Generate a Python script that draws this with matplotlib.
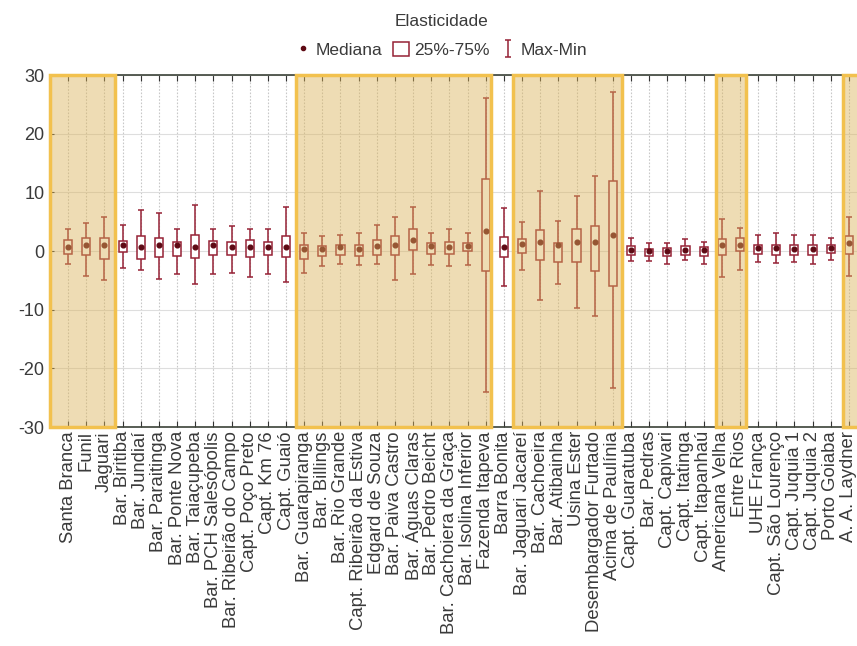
import numpy as np
import matplotlib.pyplot as plt
from matplotlib.lines import Line2D

plt.rcParams["font.family"] = ["Liberation Sans", "DejaVu Sans"]
plt.rcParams["axes.unicode_minus"] = False

stations = [
    "Santa Branca", "Funil", "Jaguari", "Bar. Biritiba", "Bar. Jundiaí",
    "Bar. Paraitinga", "Bar. Ponte Nova", "Bar. Taiaçupeba", "Bar. PCH Salesópolis",
    "Bar. Ribeirão do Campo", "Capt. Poço Preto", "Capt. Km 76", "Capt. Guaió",
    "Bar. Guarapiranga", "Bar. Billings", "Bar. Rio Grande", "Capt. Ribeirão da Estiva",
    "Edgard de Souza", "Bar. Paiva Castro", "Bar. Águas Claras", "Bar. Pedro Beicht",
    "Bar. Cachoiera da Graça", "Bar. Isolina Inferior", "Fazenda Itapeva", "Barra Bonita",
    "Bar. Jaguari Jacareí", "Bar. Cachoeira", "Bar. Atibainha", "Usina Ester",
    "Desembargador Furtado", "Acima de Paulínia", "Capt. Guaratuba", "Bar. Pedras",
    "Capt. Capivari", "Capt. Itatinga", "Capt. Itapanhaú", "Americana Velha",
    "Entre Rios", "UHE França", "Capt. São Lourenço", "Capt. Juquia 1",
    "Capt. Juquia 2", "Porto Goiaba", "A. A. Laydner",
]
v_max = [3.8, 4.7, 5.8, 4.4, 7.0, 6.4, 3.8, 7.9, 3.8, 4.3, 3.8, 3.8, 7.5,
         3.1, 2.6, 2.8, 3.1, 4.5, 5.8, 7.5, 3.1, 3.8, 3.1, 26.0, 7.4,
         5.0, 10.2, 5.1, 9.4, 12.7, 27.1, 2.2, 1.4, 1.4, 2.0, 1.55, 5.4,
         3.95, 2.8, 3.1, 2.8, 2.8, 2.2, 5.8]
q75 = [1.95, 2.3, 2.3, 1.7, 2.6, 2.3, 1.5, 2.7, 1.65, 1.5, 1.8, 1.5, 2.6,
       1.1, 0.8, 1.1, 1.1, 1.8, 2.5, 3.8, 1.4, 1.5, 1.4, 12.2, 2.4,
       2.1, 3.5, 1.4, 3.8, 4.3, 12.0, 0.85, 0.4, 0.5, 0.85, 0.7, 2.1,
       2.2, 1.1, 1.1, 1.0, 1.0, 1.1, 2.6]
median = [0.6, 1.1, 1.1, 1.0, 0.7, 1.0, 1.1, 0.7, 1.1, 0.7, 0.7, 0.7, 0.7,
          0.4, 0.3, 0.6, 0.3, 0.8, 1.0, 1.8, 0.8, 0.7, 0.8, 3.4, 0.7,
          1.25, 1.5, 1.0, 1.5, 1.5, 2.7, 0.1, -0.05, -0.05, 0.1, 0.1, 1.0,
          1.1, 0.5, 0.5, 0.4, 0.4, 0.5, 1.4]
q25 = [-0.45, -0.6, -1.3, -0.2, -1.3, -1.0, -0.85, -1.2, -0.7, -0.7, -1.0, -0.7, -1.0,
       -1.3, -0.85, -0.6, -0.85, -0.6, -0.6, 0.1, -0.45, -0.45, -0.05, -3.4, -1.1,
       -0.3, -1.6, -1.8, -1.8, -3.4, -5.9, -0.75, -0.85, -0.85, -0.75, -0.85, -0.6,
       -0.05, -0.45, -0.6, -0.6, -0.6, -0.3, -0.45]
v_min = [-2.2, -4.2, -5.0, -2.9, -3.3, -4.8, -4.0, -5.6, -4.0, -3.8, -4.5, -4.0, -5.2,
         -3.8, -2.6, -2.2, -2.45, -2.2, -4.9, -4.0, -2.35, -2.6, -2.35, -24.1, -5.9,
         -3.2, -8.3, -5.6, -9.8, -11.1, -23.4, -1.75, -1.75, -2.2, -1.5, -2.3, -4.45,
         -3.3, -1.9, -2.05, -1.9, -2.2, -1.6, -4.2]

# highlighted groups of stations (edges in category units)
shade_spans = [(-1.0, 2.6), (12.55, 23.3), (24.5, 30.5), (35.7, 37.35), (42.7, 44.5)]

box_c = "#962236"
med_c = "#5e0a14"
txt_c = "#3a3a3a"

x = np.arange(len(stations))
med = np.array(median)
lo = med - np.array(v_min)
hi = np.array(v_max) - med

fig = plt.figure(figsize=(8.57, 6.46), dpi=100)
ax = fig.add_axes([50 / 857, 219 / 646, 817 / 857, 352 / 646])

wh = ax.errorbar(x, med, yerr=[lo, hi], fmt="none", ecolor=box_c, elinewidth=1.1,
                 capsize=2.5, capthick=1.1, zorder=2)
bx = ax.bar(x, np.array(q75) - np.array(q25), bottom=q25, width=0.45,
            facecolor="white", edgecolor=box_c, linewidth=1.1, zorder=3)
ax.plot(x, med, "o", ms=3.4, color=med_c, zorder=4)

for a, b in shade_spans:
    ax.axvspan(a, b, facecolor=(0.86, 0.70, 0.35, 0.45), edgecolor="#f2c14e",
               linewidth=2.5, zorder=5, clip_on=False)

ax.set_xlim(-1, 44)
ax.set_ylim(-30, 30)
ax.set_yticks(range(-30, 31, 10))
ax.set_xticks(x, stations, rotation=90)
ax.tick_params(axis="x", direction="in", top=True, length=4, pad=3,
               labelsize=13.3, labelcolor=txt_c, color="#333333")
ax.tick_params(axis="y", direction="in", length=3, pad=4,
               labelsize=13, labelcolor=txt_c, color="#333333")
ax.grid(axis="x", color="#c8c8c8", linestyle=(0, (1.5, 1.5)), linewidth=0.8)
ax.grid(axis="y", color="#dedede", linestyle="-", linewidth=0.8)
for s in ["left", "bottom", "top"]:
    ax.spines[s].set_color("#3b4238")
    ax.spines[s].set_linewidth(1.2)
ax.spines["right"].set_visible(False)

fig.text(0.515, 1 - 22 / 646, "Elasticidade", ha="center", va="center",
         fontsize=12.5, color=txt_c)
handles = [
    Line2D([], [], marker="o", ms=3, color=med_c, linestyle="none"),
    bx,
    wh,
]
fig.legend(handles, ["Mediana", "25%-75%", "Max-Min"], loc="center",
           bbox_to_anchor=(0.515, 1 - 50 / 646), ncol=3, frameon=False,
           fontsize=12.5, labelcolor=txt_c, handlelength=0.9, handleheight=0.9,
           handletextpad=0.3, columnspacing=0.6)

fig.savefig("out.png", dpi=100)
